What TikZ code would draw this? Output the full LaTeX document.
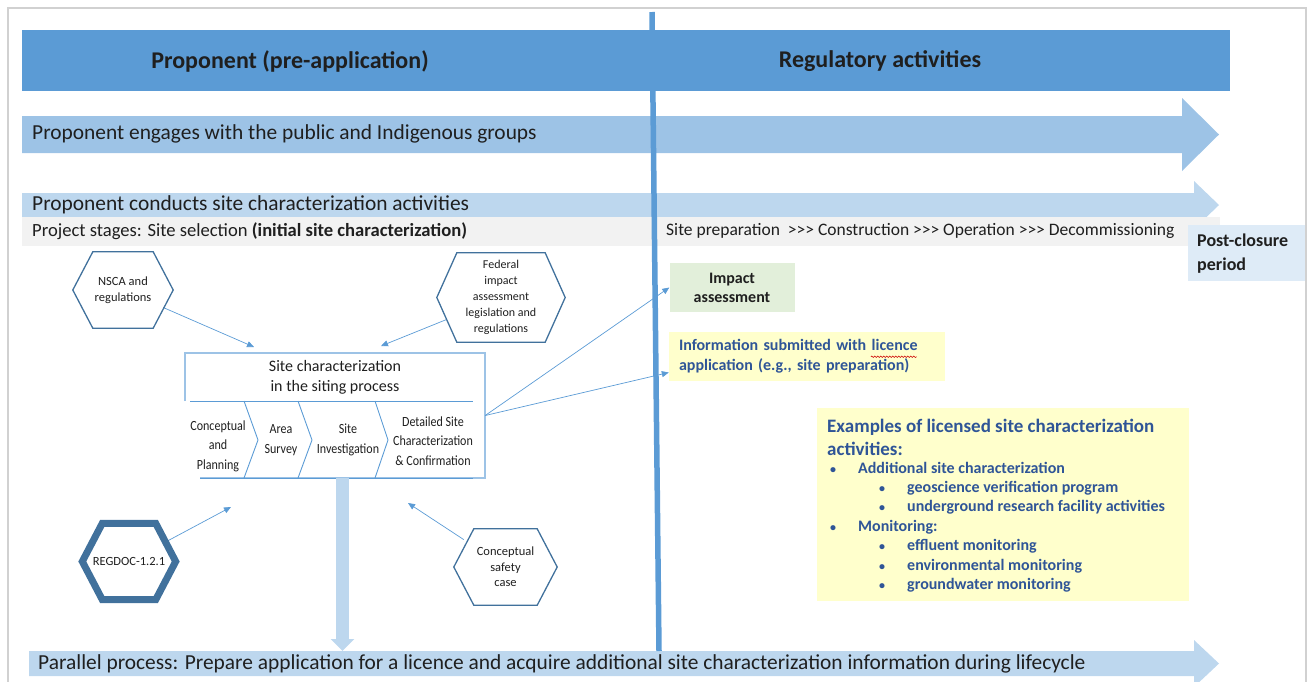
\documentclass[tikz,border=0pt]{standalone}
\usepackage{fontspec}
\setmainfont{Carlito}[Ligatures=TeXOff]
\newfontfamily\narrowfont{Carlito}[Ligatures=TeXOff,FakeStretch=0.86]
\usetikzlibrary{arrows.meta,decorations.pathmorphing}

\definecolor{hdrblue}{HTML}{5B9BD5}
\definecolor{arrowblue}{HTML}{9DC3E6}
\definecolor{paleblue}{HTML}{BDD7EE}
\definecolor{stagegray}{HTML}{F2F2F2}
\definecolor{postblue}{HTML}{DEEBF7}
\definecolor{hexline}{HTML}{41719C}
\definecolor{iagreen}{HTML}{E2EFDA}
\definecolor{noteyellow}{HTML}{FFFFCC}
\definecolor{notetext}{HTML}{2F5597}

\newcommand\exbullet{\makebox[28pt][l]{\fontsize{12}{12}\selectfont\textbullet}}

\tikzset{
  every node/.style={inner sep=0pt, text=black!88},
  hexnode/.style={align=center, font=\fontsize{12.5}{15.5}\selectfont},
  hexedge/.style={draw=hexline, line width=1.3pt, line join=miter},
  feed/.style={draw=hdrblue, line width=0.7pt, -{Triangle[length=7pt,width=6pt]}},
  chevline/.style={draw=hdrblue, line width=0.9pt},
  stagetext/.style={align=center, font=\narrowfont\fontsize{14}{19.5}\selectfont},
  bandtext/.style={anchor=west, font=\fontsize{21.4}{24}\selectfont},
  headtext/.style={font=\bfseries\fontsize{24}{28}\selectfont},
}

\begin{document}
\begin{tikzpicture}[x=1pt,y=-1pt]
  \useasboundingbox (0,0) rectangle (1311,681);
  \clip (0,0) rectangle (1311,681);

  % header bar
  \fill[hdrblue] (22,30) rectangle (1230,91);
  \node[headtext] (proponent) at (290,61) {Proponent (pre-application)};
  \node[headtext] (regulatory) at (880,61) {Regulatory activities};

  % block arrows across the time line
  \fill[arrowblue] (22,116) -- (1182,116) -- (1182,98) -- (1219,134.5)
    -- (1182,171) -- (1182,153) -- (22,153) -- cycle;
  \node[bandtext] (engage) at (32,134) {Proponent engages with the public and Indigenous groups};

  \fill[paleblue] (22,193) -- (1194,193) -- (1194,181) -- (1219,205)
    -- (1194,229) -- (1194,217) -- (22,217) -- cycle;
  \node[bandtext] (conduct) at (32,205) {Proponent conducts site characterization activities};

  \fill[stagegray] (22,217) rectangle (1220,246);
  \node[anchor=west, font=\fontsize{18.6}{22}\selectfont] (stagesleft) at (32,231)
    {Project stages: Site selection \textbf{(initial site characterization)}};
  \node[anchor=west, font=\fontsize{17.5}{22}\selectfont] (stagesright) at (666,231)
    {Site preparation\ \ >>> Construction >>> Operation >>> Decommissioning};

  \node[fill=postblue, anchor=north west, text width=100pt, inner xsep=9pt, inner ysep=4pt,
    minimum height=56pt, align=left, font=\bfseries\fontsize{18}{24}\selectfont]
    (postclosure) at (1188,225) {Post-closure\\period};

  \fill[paleblue] (29,651) -- (1194,651) -- (1194,640) -- (1219,663.5)
    -- (1194,687) -- (1194,676) -- (29,676) -- cycle;
  \node[bandtext] (parallel) at (38,664) {Parallel process: Prepare application for a licence and acquire additional site characterization information during lifecycle};

  % divider between the two phases
  \draw[hdrblue, line width=5.5pt] (652,12) -- (659,651);

  % site characterization box
  \node[minimum width=300pt, minimum height=125pt] (sitebox) at (335,415.5) {};
  \draw[arrowblue, line width=2pt] (185,401) -- (185,353) -- (485,353) -- (485,478) -- (200,478);
  \node[align=center, font=\fontsize{16}{20}\selectfont] (sitetitle) at (335,377)
    {Site characterization\\in the siting process};
  \draw[chevline] (190,401) -- (473,401);
  \draw[chevline] (200,478) -- (473,478);
  \foreach \a/\b in {244/258, 298/312, 375/388}
    \draw[chevline] (\a,401) -- (\b,440) -- (\a,478);
  \node[stagetext] (planning) at (218,446) {Conceptual\\and\\Planning};
  \node[stagetext] (survey) at (281,440) {Area\\Survey};
  \node[stagetext] (investigation) at (348,440) {Site\\Investigation};
  \node[stagetext] (detailed) at (433,441) {Detailed Site\\Characterization\\\& Confirmation};

  \coordinate (drop) at (342.5,651);
  \draw[paleblue, line width=13pt, -{Triangle[length=12pt,width=23pt]}] (drop |- sitebox.south) -- (drop);

  % inputs to the siting process
  \node[hexnode, minimum width=80pt, minimum height=76pt] (nsca) at (123,290) {NSCA and\\regulations};
  \node[hexnode, minimum width=108pt, minimum height=89pt, font=\fontsize{12}{16}\selectfont]
    (federal) at (501,297.5) {Federal\\impact\\assessment\\legislation and\\regulations};
  \node[hexnode, minimum width=73pt, minimum height=76pt] (regdoc) at (129,561.5) {REGDOC-1.2.1};
  \node[hexnode, minimum width=83pt, minimum height=76pt] (safety) at (505.5,567) {Conceptual\\safety\\case};

  \coordinate (nsca-in) at (254,347);
  \coordinate (federal-in) at (381,346);
  \coordinate (regdoc-in) at (231,507);
  \coordinate (safety-in) at (408,503);
  \foreach \h in {nsca,federal,regdoc,safety}
    \draw[feed] (\h) -- (\h-in);

  \foreach \h in {nsca,federal,safety}
    \draw[hexedge] ([xshift=-10pt]\h.west) -- ([xshift=10pt]\h.north west)
      -- ([xshift=-10pt]\h.north east) -- ([xshift=10pt]\h.east)
      -- ([xshift=-10pt]\h.south east) -- ([xshift=10pt]\h.south west) -- cycle;
  \draw[hexedge, line width=7pt] ([xshift=-10pt]regdoc.west) -- ([xshift=10pt]regdoc.north west)
    -- ([xshift=-10pt]regdoc.north east) -- ([xshift=10pt]regdoc.east)
    -- ([xshift=-10pt]regdoc.south east) -- ([xshift=10pt]regdoc.south west) -- cycle;

  % regulatory side
  \node[fill=iagreen, minimum width=125pt, minimum height=49pt, align=center,
    font=\bfseries\fontsize{16}{19}\selectfont] (impact) at (732,287.5) {Impact\\assessment};
  \node[fill=noteyellow, text width=256pt, inner xsep=10pt, minimum height=49pt, align=left,
    text=notetext, font=\bfseries\fontsize{16}{20}\selectfont] (info) at (807,356.5)
    {Information submitted with licence\\application (e.g., site preparation)};
  \draw[red!80!black, line width=0.5pt, decorate,
    decoration={snake, amplitude=0.8pt, segment length=3pt}]
    ([xshift=202pt,yshift=-25pt]info.north west) -- ++(46,0);

  \draw[feed] (sitebox.east) -- (impact.west);
  \draw[feed] (sitebox.east) -- ([yshift=-16pt]info.west);

  \node[fill=noteyellow, minimum width=372pt, minimum height=193pt] (examples) at (1003,504.5) {};
  \node[anchor=west, align=left, text=notetext, font=\bfseries\fontsize{19}{23}\selectfont]
    (extitle) at (827,437) {Examples of licensed site characterization\\activities:};
  \node[anchor=west, align=left, text=notetext, font=\bfseries\fontsize{16}{19.4}\selectfont]
    (exlist) at (830,527) {%
      \exbullet Additional site characterization\\
      \hspace*{49pt}\exbullet geoscience verification program\\
      \hspace*{49pt}\exbullet underground research facility activities\\
      \exbullet Monitoring:\\
      \hspace*{49pt}\exbullet effluent monitoring\\
      \hspace*{49pt}\exbullet environmental monitoring\\
      \hspace*{49pt}\exbullet groundwater monitoring};

  % outer frame
  \draw[black!18, line width=1.5pt] (8,700) -- (8,8) -- (1306,8) -- (1306,700);
\end{tikzpicture}
\end{document}
